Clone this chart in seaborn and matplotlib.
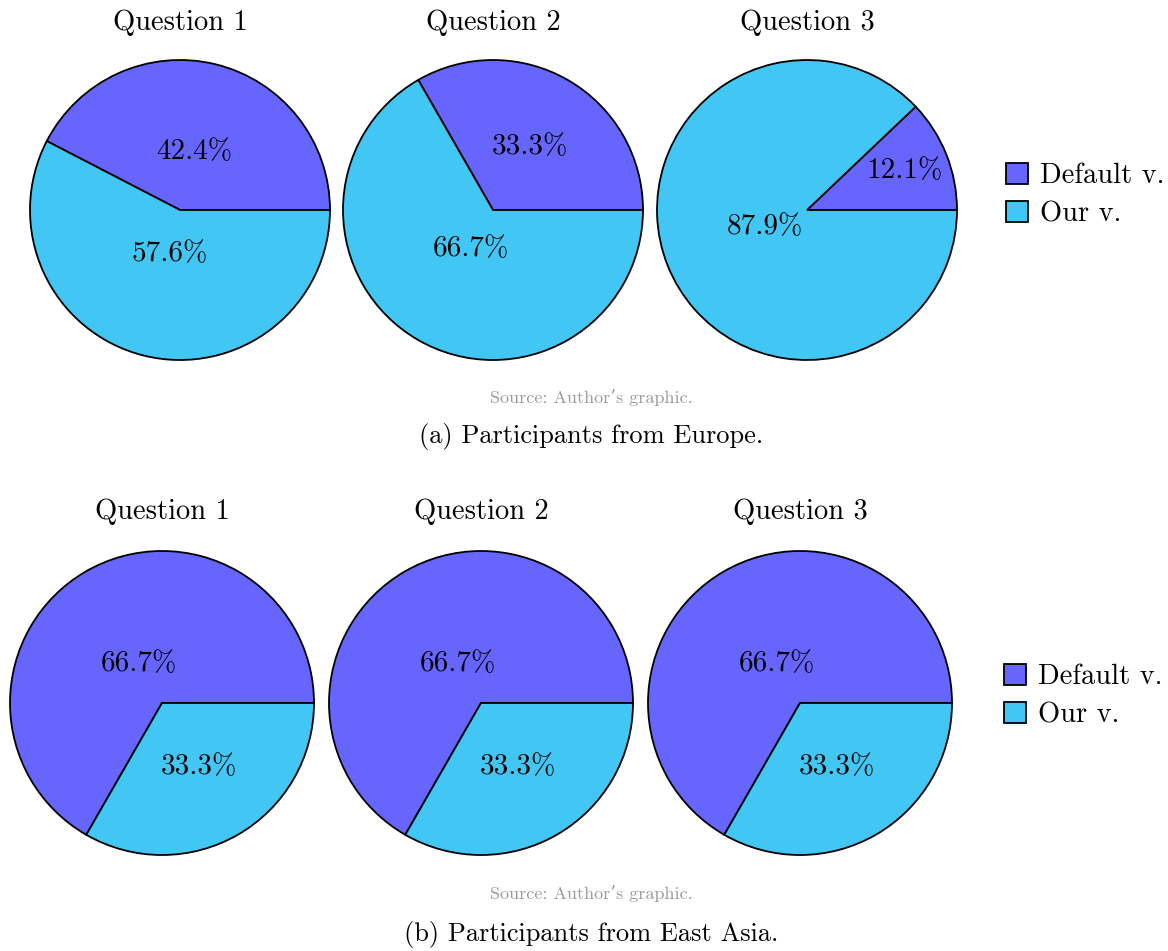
import numpy as np
import matplotlib
matplotlib.use("Agg")
import matplotlib.pyplot as plt
import seaborn as sns
from matplotlib.patches import Patch

# chart data
questions = ["Question 1", "Question 2", "Question 3"]
series_labels = ["Default v.", "Our v."]
europe_default = [42.4, 33.3, 12.1]
europe_ours = [57.6, 66.7, 87.9]
asia_default = [66.7, 66.7, 66.7]
asia_ours = [33.3, 33.3, 33.3]
source_text = "Source: Author\u2019s graphic."
captions = ["(a) Participants from Europe.", "(b) Participants from East Asia."]

sns.set_theme(style="white")
plt.rcParams["font.family"] = ["cmr10", "DejaVu Serif"]
plt.rcParams["mathtext.fontset"] = "cm"
plt.rcParams["axes.unicode_minus"] = False
plt.rcParams["text.color"] = "black"

colors = ["#6666FF", "#42C6F3"]

W, H = 1168, 951
fig = plt.figure(figsize=(W / 100, H / 100), dpi=100)


def px_axes(cx, cy, r):
    # pixel centre / radius -> axes in figure fractions
    return fig.add_axes([(cx - r) / W, (H - cy - r) / H, 2 * r / W, 2 * r / H])


def draw_row(defaults, ours, centers, cy, r, title_y):
    for q, d, o, cx in zip(questions, defaults, ours, centers):
        ax = px_axes(cx, cy, r)
        wedges, _ = ax.pie([d, o], colors=colors, startangle=0, counterclock=True,
                           wedgeprops=dict(edgecolor="black", linewidth=1.3))
        ax.set_xlim(-1, 1)
        ax.set_ylim(-1, 1)
        ax.set_aspect("equal")
        ax.axis("off")
        for w, v in zip(wedges, [d, o]):
            mid = np.deg2rad((w.theta1 + w.theta2) / 2)
            dist = np.clip(0.82 - 0.01 * v, 0.3, 0.7)
            ax.text(dist * np.cos(mid), dist * np.sin(mid), f"{v}%",
                    ha="center", va="center", fontsize=21, color="black")
        fig.text(cx / W, 1 - title_y / H, q, ha="center", va="center", fontsize=20.5)


draw_row(europe_default, europe_ours, [180, 493, 807], 210, 150, 23)
draw_row(asia_default, asia_ours, [162, 481, 800], 703, 152, 512)

handles = [Patch(facecolor=c, edgecolor="black", linewidth=1.3) for c in colors]
for lx, ly in [(1006, 195), (1004, 696)]:
    fig.legend(handles, series_labels, loc="center left",
               bbox_to_anchor=(lx / W, 1 - ly / H), frameon=False, fontsize=20.5,
               handlelength=0.78, handleheight=0.75, handletextpad=0.4,
               labelspacing=0.4, borderpad=0, borderaxespad=0)

for sy, cy_, cap in [(397, 437, captions[0]), (893, 935, captions[1])]:
    fig.text(591 / W, 1 - sy / H, source_text, ha="center", va="center",
             fontsize=13, color="#999999")
    fig.text(591 / W, 1 - cy_ / H, cap, ha="center", va="center", fontsize=19)

fig.savefig("out.png", dpi=100)
